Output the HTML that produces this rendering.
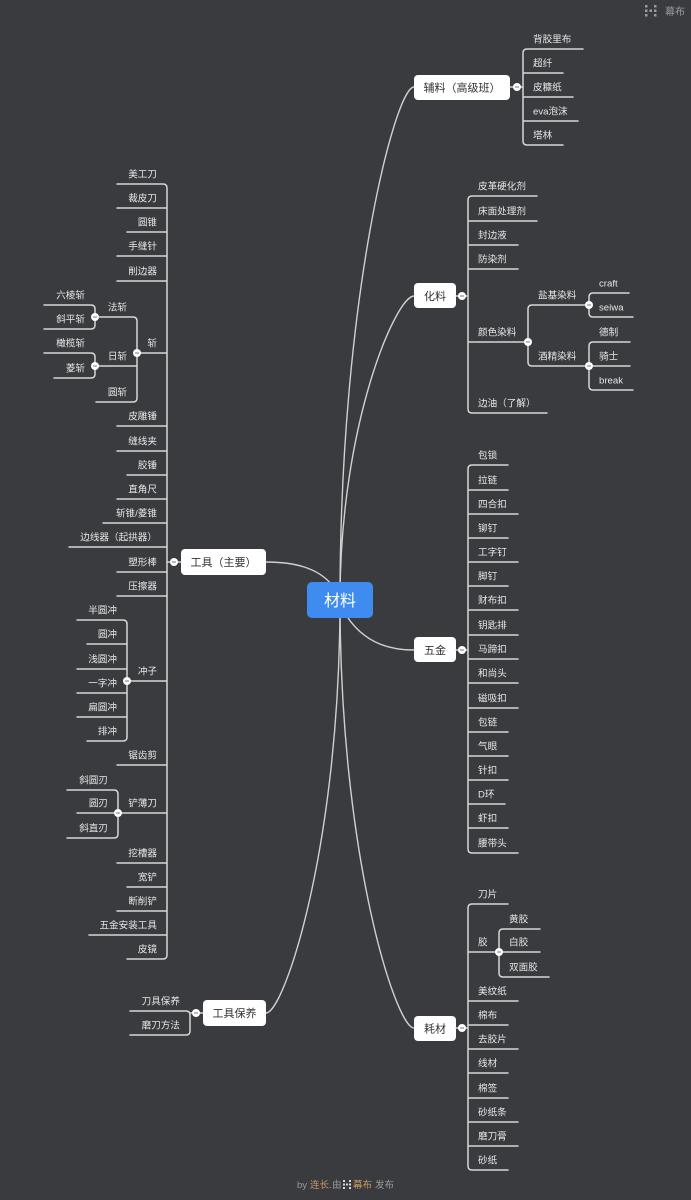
<!DOCTYPE html>
<html><head><meta charset="utf-8">
<style>
html,body{margin:0;padding:0;background:#3a3b3f;}
svg{display:block;}
text{font-family:"Liberation Sans","Noto Sans CJK SC","WenQuanYi Zen Hei",sans-serif;}
.l{font-size:9.6px;fill:#e6e6e6;}
.r{text-anchor:end;}
.n{font-size:11px;fill:#333;text-anchor:middle;}
.ln{fill:none;stroke:#d6d6d6;stroke-width:1.5;stroke-linecap:round;}
.cn{fill:none;stroke:#d0d0d0;stroke-width:1.4;}
</style></head>
<body>
<svg width="691" height="1200" viewBox="0 0 691 1200" xmlns="http://www.w3.org/2000/svg">
<rect width="691" height="1200" fill="#3a3b3f"/>

<!-- top right logo -->
<g fill="#9a9a9a">
<rect x="645" y="5" width="2.5" height="2.5"/><rect x="645" y="9.5" width="2.5" height="2.5"/><rect x="645" y="14" width="2.5" height="2.5"/>
<rect x="654" y="5" width="2.5" height="2.5"/><rect x="654" y="9.5" width="2.5" height="2.5"/><rect x="654" y="14" width="2.5" height="2.5"/>
<rect x="649.5" y="9.5" width="2.5" height="2.5"/>
</g>
<text x="665" y="15" style="font-size:10px;fill:#9a9a9a">幕布</text>

<!-- main connectors -->
<path class="cn" d="M340,600 C340,300 395,87 414,87"/>
<path class="cn" d="M340,600 C340,424 396,296 414,296"/>
<path class="cn" d="M332,585 C318,568 295,562 266,562"/>
<path class="cn" d="M346,615 C362,640 385,650 414,650"/>
<path class="cn" d="M340,600 C340,847 284,1013 266,1013"/>
<path class="cn" d="M340,600 C340,856 396,1028 414,1028"/>

<!-- center -->
<rect x="307" y="582" width="66" height="36" rx="5" fill="#3f8cf0"/>
<text x="340" y="606" style="font-size:16px;fill:#fff;text-anchor:middle">材料</text>

<!-- ===== 辅料 ===== -->
<rect x="414" y="75" width="96" height="25" rx="4" fill="#fff"/>
<text class="n" x="462" y="91.5">辅料（高级班）</text>
<path class="ln" d="M510,87 H523"/>
<path class="ln" d="M583,49 H527 Q523,49 523,53 V141 Q523,145 527,145 H563 M523,73 H563 M523,97 H573 M523,121 H578"/>
<g class="l">
<text x="533" y="42.5">背胶里布</text><text x="533" y="66.5">超纤</text><text x="533" y="90.5">皮糠纸</text><text x="533" y="114.5">eva泡沫</text><text x="533" y="138.5">塔林</text>
</g>

<!-- ===== 化料 ===== -->
<rect x="414" y="283" width="42" height="25" rx="4" fill="#fff"/>
<text class="n" x="435" y="300">化料</text>
<path class="ln" d="M456,296 H468"/>
<path class="ln" d="M537,196 H472 Q468,196 468,200 V409 Q468,413 472,413 H547 M468,221 H537 M468,245 H518 M468,269 H518 M468,342 H528"/>
<path class="ln" d="M589,305 H532 Q528,305 528,309 V362 Q528,366 532,366 H589"/>
<path class="ln" d="M629,293 H593 Q589,293 589,297 V313 Q589,317 593,317 H633"/>
<path class="ln" d="M630,342 H593 Q589,342 589,346 V386 Q589,390 593,390 H633 M589,366 H630"/>
<g class="l">
<text x="478" y="189.5">皮革硬化剂</text><text x="478" y="214.5">床面处理剂</text><text x="478" y="238.5">封边液</text><text x="478" y="262.5">防染剂</text><text x="478" y="335.5">颜色染料</text><text x="478" y="406.5">边油（了解）</text>
<text x="538" y="298.5">盐基染料</text><text x="538" y="359.5">酒精染料</text>
<text x="599" y="286.5">craft</text><text x="599" y="310.5">seiwa</text>
<text x="599" y="335.5">德制</text><text x="599" y="359.5">骑士</text><text x="599" y="383.5">break</text>
</g>

<!-- ===== 五金 ===== -->
<rect x="414" y="637" width="42" height="25" rx="4" fill="#fff"/>
<text class="n" x="435" y="654">五金</text>
<path class="ln" d="M456,650 H468"/>
<path class="ln" d="M508,465 H472 Q468,465 468,469 V849 Q468,853 472,853 H518 M468,490 H508 M468,514 H518 M468,538 H508 M468,562 H518 M468,586 H508 M468,610 H518 M468,635 H518 M468,659 H518 M468,683 H518 M468,708 H518 M468,732 H508 M468,756 H508 M468,780 H508 M468,804 H505 M468,828 H508"/>
<g class="l">
<text x="478" y="458.5">包锁</text><text x="478" y="483.5">拉链</text><text x="478" y="507.5">四合扣</text><text x="478" y="531.5">铆钉</text><text x="478" y="555.5">工字钉</text><text x="478" y="579.5">脚钉</text><text x="478" y="603.5">财布扣</text><text x="478" y="628.5">钥匙排</text><text x="478" y="652.5">马蹄扣</text><text x="478" y="676.5">和尚头</text><text x="478" y="701.5">磁吸扣</text><text x="478" y="725.5">包链</text><text x="478" y="749.5">气眼</text><text x="478" y="773.5">针扣</text><text x="478" y="797.5">D环</text><text x="478" y="821.5">虾扣</text><text x="478" y="846.5">腰带头</text>
</g>

<!-- ===== 耗材 ===== -->
<rect x="414" y="1016" width="42" height="25" rx="4" fill="#fff"/>
<text class="n" x="435" y="1032.5">耗材</text>
<path class="ln" d="M456,1028 H468"/>
<path class="ln" d="M508,904 H472 Q468,904 468,908 V1166 Q468,1170 472,1170 H508 M468,952 H499 M468,1001 H518 M468,1025 H508 M468,1049 H518 M468,1073 H508 M468,1098 H508 M468,1122 H518 M468,1146 H518"/>
<path class="ln" d="M540,929 H503 Q499,929 499,933 V973 Q499,977 503,977 H549 M499,952 H540"/>
<g class="l">
<text x="478" y="897.5">刀片</text><text x="478" y="945.5">胶</text>
<text x="509" y="922.5">黄胶</text><text x="509" y="945.5">白胶</text><text x="509" y="970.5">双面胶</text>
<text x="478" y="994.5">美纹纸</text><text x="478" y="1018.5">棉布</text><text x="478" y="1042.5">去胶片</text><text x="478" y="1066.5">线材</text><text x="478" y="1091.5">棉签</text><text x="478" y="1115.5">砂纸条</text><text x="478" y="1139.5">磨刀膏</text><text x="478" y="1163.5">砂纸</text>
</g>

<!-- ===== 工具（主要） ===== -->
<rect x="181" y="549" width="85" height="26" rx="4" fill="#fff"/>
<text class="n" x="223.5" y="566">工具（主要）</text>
<path class="ln" d="M181,562 H167"/>
<path class="ln" d="M117,184 H163 Q167,184 167,188 V955 Q167,959 163,959 H127 M167,208 H117 M167,232 H127 M167,256 H117 M167,281 H117 M167,353 H137 M167,426 H117 M167,451 H117 M167,475 H127 M167,499 H117 M167,523 H103 M167,547 H69 M167,572 H117 M167,596 H117 M167,681 H127 M167,765 H117 M167,813 H118 M167,863 H117 M167,887 H127 M167,911 H117 M167,935 H89"/>
<!-- 斩 -->
<path class="ln" d="M95,317 H133 Q137,317 137,321 V398 Q137,402 133,402 H96 M137,366 H95"/>
<path class="ln" d="M44,305 H91 Q95,305 95,309 V325 Q95,329 91,329 H44"/>
<path class="ln" d="M44,353 H91 Q95,353 95,357 V374 Q95,378 91,378 H54"/>
<!-- 冲子 -->
<path class="ln" d="M77,620 H123 Q127,620 127,624 V737 Q127,741 123,741 H87 M127,644 H87 M127,669 H77 M127,693 H77 M127,717 H77"/>
<!-- 铲薄刀 -->
<path class="ln" d="M67,790 H114 Q118,790 118,794 V834 Q118,838 114,838 H67 M118,813 H77"/>
<g class="l r">
<text x="157" y="177.5">美工刀</text><text x="157" y="201.5">裁皮刀</text><text x="157" y="225.5">圆锥</text><text x="157" y="249.5">手缝针</text><text x="157" y="274.5">削边器</text>
<text x="157" y="346.5">斩</text>
<text x="127" y="310.5">法斩</text><text x="127" y="359.5">日斩</text><text x="127" y="395.5">圆斩</text>
<text x="85" y="298.5">六棱斩</text><text x="85" y="322.5">斜平斩</text><text x="85" y="346.5">橄榄斩</text><text x="85" y="371.5">菱斩</text>
<text x="157" y="419.5">皮雕锤</text><text x="157" y="444.5">缝线夹</text><text x="157" y="468.5">胶锤</text><text x="157" y="492.5">直角尺</text><text x="157" y="516.5">斩锥/菱锥</text><text x="157" y="540.5">边线器（起拱器）</text><text x="157" y="565.5">塑形棒</text><text x="157" y="589.5">压擦器</text>
<text x="157" y="674.5">冲子</text>
<text x="117" y="613.5">半圆冲</text><text x="117" y="637.5">圆冲</text><text x="117" y="662.5">浅圆冲</text><text x="117" y="686.5">一字冲</text><text x="117" y="710.5">扁圆冲</text><text x="117" y="734.5">排冲</text>
<text x="157" y="758.5">锯齿剪</text>
<text x="157" y="806.5">铲薄刀</text>
<text x="108" y="783.5">斜圆刃</text><text x="108" y="806.5">圆刃</text><text x="108" y="831.5">斜直刃</text>
<text x="157" y="856.5">挖槽器</text><text x="157" y="880.5">宽铲</text><text x="157" y="904.5">断削铲</text><text x="157" y="928.5">五金安装工具</text><text x="157" y="952.5">皮镜</text>
</g>

<!-- ===== 工具保养 ===== -->
<rect x="203" y="1000" width="63" height="26" rx="4" fill="#fff"/>
<text class="n" x="234.5" y="1017">工具保养</text>
<path class="ln" d="M203,1013 H190"/>
<path class="ln" d="M130,1011 H186 Q190,1011 190,1015 V1031 Q190,1035 186,1035 H130"/>
<g class="l r">
<text x="180" y="1004.5">刀具保养</text><text x="180" y="1028.5">磨刀方法</text>
</g>

<!-- collapse dots -->
<g>
<g transform="translate(517,87)"><circle r="4" fill="#fff"/><line x1="-2" x2="2" stroke="#777" stroke-width="1"/></g>
<g transform="translate(462,296)"><circle r="4" fill="#fff"/><line x1="-2" x2="2" stroke="#777" stroke-width="1"/></g>
<g transform="translate(528,342)"><circle r="4" fill="#fff"/><line x1="-2" x2="2" stroke="#777" stroke-width="1"/></g>
<g transform="translate(589,305)"><circle r="4" fill="#fff"/><line x1="-2" x2="2" stroke="#777" stroke-width="1"/></g>
<g transform="translate(589,366)"><circle r="4" fill="#fff"/><line x1="-2" x2="2" stroke="#777" stroke-width="1"/></g>
<g transform="translate(462,650)"><circle r="4" fill="#fff"/><line x1="-2" x2="2" stroke="#777" stroke-width="1"/></g>
<g transform="translate(462,1028)"><circle r="4" fill="#fff"/><line x1="-2" x2="2" stroke="#777" stroke-width="1"/></g>
<g transform="translate(499,952)"><circle r="4" fill="#fff"/><line x1="-2" x2="2" stroke="#777" stroke-width="1"/></g>
<g transform="translate(174,562)"><circle r="4" fill="#fff"/><line x1="-2" x2="2" stroke="#777" stroke-width="1"/></g>
<g transform="translate(137,353)"><circle r="4" fill="#fff"/><line x1="-2" x2="2" stroke="#777" stroke-width="1"/></g>
<g transform="translate(95,317)"><circle r="4" fill="#fff"/><line x1="-2" x2="2" stroke="#777" stroke-width="1"/></g>
<g transform="translate(95,366)"><circle r="4" fill="#fff"/><line x1="-2" x2="2" stroke="#777" stroke-width="1"/></g>
<g transform="translate(127,681)"><circle r="4" fill="#fff"/><line x1="-2" x2="2" stroke="#777" stroke-width="1"/></g>
<g transform="translate(118,813)"><circle r="4" fill="#fff"/><line x1="-2" x2="2" stroke="#777" stroke-width="1"/></g>
<g transform="translate(196,1013)"><circle r="4" fill="#fff"/><line x1="-2" x2="2" stroke="#777" stroke-width="1"/></g>
</g>

<!-- footer -->
<g style="font-size:9.5px">
<text x="297" y="1188" fill="#9a9a9a">by</text>
<text x="310" y="1188" fill="#c9995e">连长.</text>
<text x="332" y="1188" fill="#9a9a9a">由</text>
<g fill="#d8d8d8">
<rect x="343" y="1180" width="2" height="2"/><rect x="343" y="1183.5" width="2" height="2"/><rect x="343" y="1187" width="2" height="2"/>
<rect x="349" y="1180" width="2" height="2"/><rect x="349" y="1183.5" width="2" height="2"/><rect x="349" y="1187" width="2" height="2"/>
<rect x="346" y="1183.5" width="2" height="2"/>
</g>
<text x="353" y="1188" fill="#c9995e">幕布</text>
<text x="375" y="1188" fill="#9a9a9a">发布</text>
</g>
</svg>
</body></html>
